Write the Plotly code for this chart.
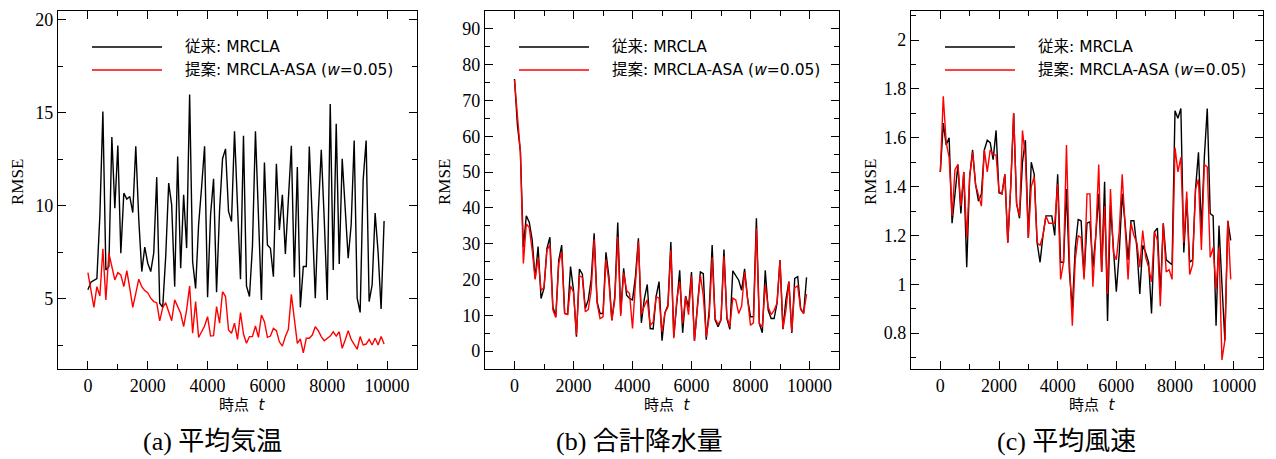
import plotly.graph_objects as go

# time steps t = 0, 100, ..., 9900
t = [i * 100 for i in range(100)]

# (a) 平均気温
temp_mrcla = [5.5, 5.9, 6.0, 6.1, 9.5, 15.07, 6.56, 6.74, 13.69, 9.87,
              13.24, 7.46, 10.68, 10.36, 10.5, 9.64, 13.2, 9.25, 6.47, 7.78,
              6.92, 6.47, 7.46, 11.54, 4.77, 4.55, 7.28, 11.22, 10.05, 5.66,
              12.65, 6.65, 10.59, 7.73, 15.97, 7.0, 5.57, 8.98, 11.0, 13.2,
              5.09, 9.52, 11.45, 5.36, 9.73, 12.53, 13.06, 9.70, 9.16, 14.0,
              10.0, 6.06, 13.76, 5.70, 5.13, 7.84, 14.0, 9.5, 4.95, 12.33,
              7.9, 7.72, 6.2, 12.26, 8.71, 10.59, 7.42, 10.32, 13.23, 6.17,
              12.08, 4.55, 6.74, 6.74, 13.19, 9.25, 5.04, 9.6, 13.01, 9.25,
              4.95, 15.47, 6.56, 14.41, 6.88, 12.53, 9.8, 7.19, 9.0, 13.51,
              5.04, 4.28, 11.38, 13.51, 4.86, 5.75, 9.61, 7.5, 4.46, 9.19]
temp_asa = [6.41, 5.57, 4.55, 5.66, 5.16, 7.69, 4.95, 7.46, 6.74, 6.02,
            6.41, 6.29, 5.66, 6.52, 5.57, 4.55, 5.3, 6.06, 5.66, 5.45,
            5.34, 5.04, 4.86, 4.80, 3.82, 4.53, 4.80, 4.37, 3.83, 4.95,
            4.59, 4.23, 3.51, 4.41, 5.70, 3.16, 4.86, 2.94, 3.24, 3.55,
            4.05, 3.01, 3.03, 4.59, 3.7, 5.39, 5.13, 3.33, 3.16, 3.7,
            2.83, 4.27, 3.12, 2.62, 2.98, 2.98, 3.55, 2.94, 4.14, 3.78,
            2.94, 3.01, 3.42, 3.3, 2.7, 2.47, 2.98, 3.37, 5.25, 3.83,
            2.62, 2.85, 2.11, 2.89, 2.89, 3.06, 3.51, 3.3, 2.98, 2.76,
            2.89, 3.01, 3.24, 3.01, 3.24, 2.35, 2.8, 3.3, 2.83, 2.53,
            2.3, 2.98, 2.53, 2.58, 2.83, 2.53, 2.89, 2.53, 2.98, 2.58]

# (b) 合計降水量
rain_mrcla = [76, 63, 55.7, 29, 37.8, 36, 31.0, 20.3, 29.2, 14.7,
              17.5, 28.7, 31.8, 12.4, 9.6, 25.4, 29.6, 10.5, 10.3, 23.6,
              17.0, 4.0, 22.9, 21.5, 11.9, 14.3, 20.0, 32.9, 13.8, 10.5,
              10.5, 27.6, 20.8, 8.7, 15.2, 35.9, 10.5, 23.1, 15.6, 14.7,
              14.3, 20.8, 31.5, 7.9, 14.5, 18.6, 6.3, 6.2, 15.2, 19.4,
              2.9, 10.7, 12.8, 30.5, 4.0, 12.3, 22.6, 5.1, 15.4, 12.3,
              22.1, 2.9, 12.3, 22.1, 21.6, 3.2, 11.4, 29.6, 8.7, 6.8,
              8.7, 28.4, 9.1, 6.1, 22.4, 21.2, 19.8, 17.0, 23.0, 14.7,
              9.6, 9.6, 37.1, 7.7, 5.1, 22.6, 11.4, 9.1, 9.1, 13.4,
              25.4, 6.1, 14.3, 19.4, 5.1, 20.3, 20.8, 11.9, 10.5, 20.6]
rain_asa = [75.7, 65, 55.7, 24.5, 35.5, 34.5, 28.2, 20.0, 26.2, 17.0,
            17.8, 28.2, 29.6, 11.5, 9.4, 24.5, 27.8, 10.5, 10.2, 18.2,
            16.5, 4.5, 21.0, 20.6, 11.0, 11.6, 17.0, 31.2, 13.4, 9.1,
            9.6, 25.6, 19.4, 8.5, 14.3, 31.9, 9.8, 21.9, 16.9, 16.1,
            6.3, 18.9, 30.6, 10.2, 12.6, 14.3, 7.2, 8.1, 15.2, 14.8,
            5.4, 10.7, 12.3, 28.2, 3.6, 14.3, 19.4, 7.7, 15.2, 10.2,
            21.0, 2.9, 12.3, 21.2, 15.5, 4.0, 9.6, 26.2, 9.1, 7.5,
            8.7, 26.5, 9.6, 6.8, 14.8, 14.3, 10.5, 12.6, 22.1, 14.3,
            7.2, 7.9, 34.3, 7.7, 6.8, 18.5, 12.3, 10.2, 11.4, 13.4,
            25.4, 6.3, 11.4, 19.4, 5.4, 17.7, 18.2, 11.6, 10.5, 15.9]

# (c) 平均風速
wind_mrcla = [1.46, 1.66, 1.57, 1.60, 1.25, 1.37, 1.49, 1.29, 1.46, 1.07,
              1.44, 1.55, 1.41, 1.34, 1.37, 1.55, 1.59, 1.58, 1.51, 1.63,
              1.375, 1.37, 1.45, 1.17, 1.40, 1.70, 1.33, 1.27, 1.50, 1.59,
              1.19, 1.50, 1.45, 1.17, 1.09, 1.20, 1.28, 1.28, 1.28, 1.20,
              1.45, 1.09, 1.09, 1.39, 1.05, 0.90, 1.15, 1.265, 1.26, 1.03,
              1.25, 1.256, 1.07, 1.20, 1.37, 1.05, 1.42, 0.85, 1.32, 1.15,
              0.97, 1.13, 1.37, 1.25, 1.10, 1.26, 1.26, 1.15, 0.96, 1.16,
              1.13, 1.09, 0.88, 1.215, 1.23, 0.96, 1.25, 1.10, 1.09, 1.08,
              1.71, 1.68, 1.72, 1.13, 1.35, 1.09, 1.10, 1.39, 1.54, 1.22,
              1.52, 1.72, 1.29, 1.28, 0.83, 1.24, 1.0, 0.77, 1.26, 1.18]
wind_asa = [1.46, 1.77, 1.58, 1.52, 1.28, 1.47, 1.49, 1.32, 1.46, 1.19,
            1.44, 1.54, 1.41, 1.37, 1.32, 1.55, 1.46, 1.55, 1.53, 1.53,
            1.38, 1.37, 1.45, 1.17, 1.40, 1.70, 1.33, 1.28, 1.63, 1.52,
            1.19, 1.40, 1.44, 1.17, 1.16, 1.20, 1.28, 1.25, 1.25, 1.25,
            1.41, 1.02, 1.09, 1.57, 1.10, 0.83, 1.10, 1.20, 1.19, 1.02,
            1.37, 1.37, 0.99, 1.20, 1.49, 1.05, 1.32, 0.96, 1.39, 1.13,
            1.10, 1.22, 1.45, 1.22, 1.02, 1.25, 1.20, 1.17, 1.07, 1.22,
            1.11, 1.07, 1.01, 1.215, 1.18, 0.91, 1.25, 1.05, 1.06, 1.02,
            1.56, 1.46, 1.52, 1.17, 1.38, 1.04, 1.08, 1.39, 1.43, 1.14,
            1.49, 1.48, 1.11, 1.15, 0.98, 1.15, 0.69, 0.77, 1.26, 1.02]

series_names = ["従来: MRCLA", "提案: MRCLA-ASA (<i>w</i>=0.05)"]
captions = ["(a) 平均気温", "(b) 合計降水量", "(c) 平均風速"]
x_title = "時点  <i>t</i>"
y_title = "RMSE"

W, H = 1276, 459
SERIF = "Liberation Serif, Noto Sans CJK JP, serif"
SANS = "DejaVu Sans, Noto Sans CJK JP, sans-serif"

# panel boxes in pixels: (left, right); shared top/bottom
boxes = [(58, 417), (485, 839), (911, 1263)]
top_px, bot_px = 11, 369
caption_x = [212, 639, 1066]
y_ranges = [[1.24, 20.46], [-5, 95], [0.653, 2.119]]
y_dticks = [5, 10, 0.2]
y_minor = [2.5, 5, 0.1]
panels = [(temp_mrcla, temp_asa), (rain_mrcla, rain_asa), (wind_mrcla, wind_asa)]

fig = go.Figure()
layout = dict(
    width=W, height=H, margin=dict(l=0, r=0, t=0, b=0),
    paper_bgcolor="white", plot_bgcolor="white", showlegend=False,
    font=dict(family=SERIF, color="black"),
)
annotations = []
shapes = []

axis_common = dict(
    showline=True, linecolor="black", linewidth=1.3, mirror="allticks",
    ticks="inside", ticklen=8, tickwidth=1.2, tickcolor="black",
    showgrid=False, zeroline=False,
    tickfont=dict(family=SERIF, size=18, color="black"),
)

for k, ((left, right), (y_old, y_new)) in enumerate(zip(boxes, panels)):
    sfx = "" if k == 0 else str(k + 1)
    xa, ya = "x" + sfx, "y" + sfx
    xdom = [left / W, right / W]
    ydom = [1 - bot_px / H, 1 - top_px / H]
    layout["xaxis" + sfx] = dict(
        axis_common, domain=xdom, anchor=ya, range=[-1000, 11000],
        tick0=0, dtick=2000, tickformat="d",
        minor=dict(ticks="inside", ticklen=4.5, tickwidth=1.0, tickcolor="black", dtick=1000, tick0=0),
    )
    layout["yaxis" + sfx] = dict(
        axis_common, domain=ydom, anchor=xa, range=y_ranges[k],
        tick0=0, dtick=y_dticks[k],
        minor=dict(ticks="inside", ticklen=4.5, tickwidth=1.0, tickcolor="black", dtick=y_minor[k], tick0=0),
    )
    fig.add_trace(go.Scatter(x=t, y=y_old, mode="lines", name=series_names[0],
                             line=dict(color="black", width=1.4), xaxis=xa, yaxis=ya))
    fig.add_trace(go.Scatter(x=t, y=y_new, mode="lines", name=series_names[1],
                             line=dict(color="red", width=1.4), xaxis=xa, yaxis=ya))

    # legend drawn inside the upper-left of each panel
    for row, (name, color) in enumerate(zip(series_names, ["black", "red"])):
        ypx = 47 + 23 * row
        shapes.append(dict(type="line", xref="paper", yref="paper",
                           x0=(left + 34) / W, x1=(left + 104) / W,
                           y0=1 - ypx / H, y1=1 - ypx / H,
                           line=dict(color=color, width=1.4)))
        annotations.append(dict(text=name, xref="paper", yref="paper",
                                x=(left + 125) / W, y=1 - ypx / H,
                                xanchor="left", yanchor="middle", showarrow=False,
                                font=dict(family=SANS, size=15.5, color="black")))

    # axis titles
    annotations.append(dict(text=y_title, xref="paper", yref="paper",
                            x=(left - 41) / W, y=1 - 182 / H, textangle=-90,
                            xanchor="center", yanchor="middle", showarrow=False,
                            font=dict(family=SERIF, size=17, color="black")))
    annotations.append(dict(text=x_title, xref="paper", yref="paper",
                            x=((left + right) / 2 + 5) / W, y=1 - 405 / H,
                            xanchor="center", yanchor="middle", showarrow=False,
                            font=dict(family=SANS, size=15, color="black")))
    annotations.append(dict(text=captions[k], xref="paper", yref="paper",
                            x=caption_x[k] / W, y=1 - 441 / H,
                            xanchor="center", yanchor="middle", showarrow=False,
                            font=dict(family=SERIF, size=26, color="black")))

layout["annotations"] = annotations
layout["shapes"] = shapes
fig.update_layout(**layout)
fig.write_html("out.html")
